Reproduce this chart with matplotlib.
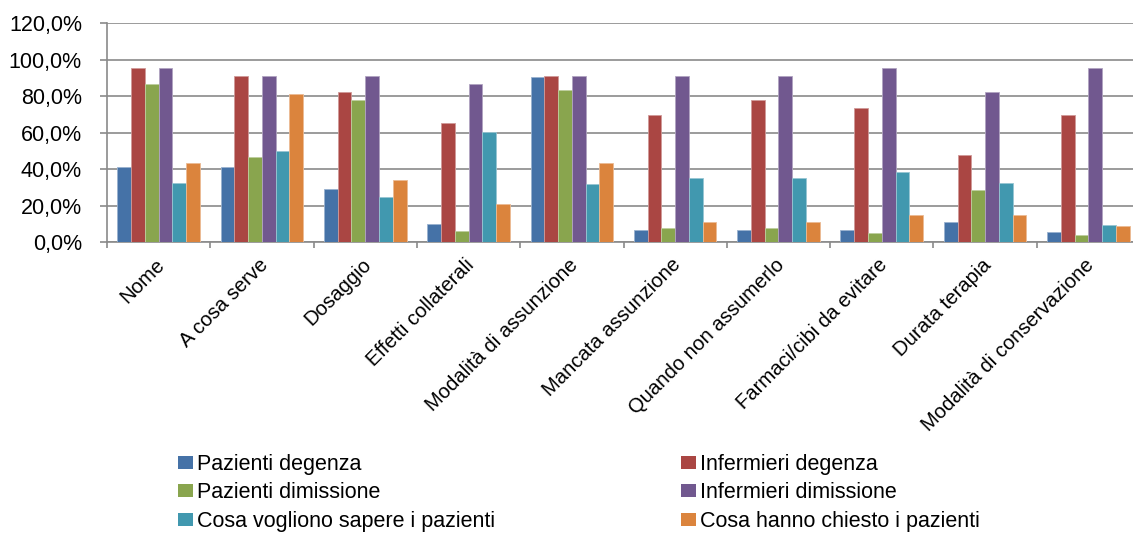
import numpy as np
import matplotlib
matplotlib.use("Agg")
import matplotlib.pyplot as plt
from matplotlib.patches import Patch
from matplotlib.colors import to_rgb
from matplotlib.ticker import FuncFormatter, FixedLocator
from matplotlib.transforms import ScaledTranslation

plt.rcParams['font.family'] = ['Liberation Sans', 'DejaVu Sans']

categories = ["Nome", "A cosa serve", "Dosaggio", "Effetti collaterali",
              "Modalità di assunzione", "Mancata assunzione",
              "Quando non assumerlo", "Farmaci/cibi da evitare",
              "Durata terapia", "Modalità di conservazione"]

series_names = ["Pazienti degenza", "Infermieri degenza", "Pazienti dimissione",
                "Infermieri dimissione", "Cosa vogliono sapere i pazienti",
                "Cosa hanno chiesto i pazienti"]

pazienti_degenza = [41.4, 41.4, 29.0, 9.8, 90.8, 6.7, 6.7, 6.7, 11.1, 5.5]
infermieri_degenza = [95.5, 91.0, 82.4, 65.1, 91.2, 69.5, 78.2, 73.8, 47.8, 69.5]
pazienti_dimissione = [86.8, 46.9, 77.8, 6.0, 83.7, 7.8, 7.8, 4.9, 28.8, 4.0]
infermieri_dimissione = [95.5, 91.0, 91.0, 86.8, 91.2, 91.2, 91.2, 95.5, 82.4, 95.5]
cosa_vogliono_sapere = [32.5, 49.8, 24.6, 60.3, 31.7, 35.4, 35.4, 38.5, 32.5, 9.5]
cosa_hanno_chiesto = [43.4, 81.0, 33.9, 21.0, 43.4, 11.1, 11.1, 15.0, 15.0, 9.1]

series_values = [pazienti_degenza, infermieri_degenza, pazienti_dimissione,
                 infermieri_dimissione, cosa_vogliono_sapere, cosa_hanno_chiesto]

colors = ["#4572A7", "#AA4643", "#89A54E", "#71588F", "#4198AF", "#DB843D"]

yticks = [0, 20, 40, 60, 80, 100, 120]

W, H = 1133, 535
fig = plt.figure(figsize=(W / 100, H / 100), dpi=100)
ax = fig.add_axes([107 / W, 1 - 242.3 / H, 1033 / W, (242.3 - 23.3) / H])

n = len(series_values)
gap = 1.5
bw = 1.0 / (n + gap)
x = np.arange(len(categories))

def lighten(c, f=0.45):
    r, g, b = to_rgb(c)
    return (r + (1 - r) * f, g + (1 - g) * f, b + (1 - b) * f)

for i, (vals, col) in enumerate(zip(series_values, colors)):
    offs = (i - (n - 1) / 2) * bw
    ax.bar(x + offs, vals, width=bw, color=col, edgecolor=lighten(col),
           linewidth=0.6, zorder=3)

ax.set_xlim(-0.5, len(categories) - 0.5)
ax.set_ylim(0, 120)
ax.set_yticks(yticks)
ax.yaxis.set_major_formatter(FuncFormatter(lambda v, p: f"{v:.1f}%".replace(".", ",")))

grid_col = "#8a8a8a"
ax.grid(axis='y', color=grid_col, linewidth=1.2, zorder=0)
ax.set_axisbelow(True)
for s in ['top', 'right']:
    ax.spines[s].set_visible(False)
for s in ['left', 'bottom']:
    ax.spines[s].set_color(grid_col)
    ax.spines[s].set_linewidth(1.2)

ax.tick_params(axis='y', direction='out', length=5, width=1.2, color=grid_col,
               labelsize=15.5, pad=13, labelcolor='black')

ax.set_xticks(x)
ax.set_xticklabels(categories, rotation=45, ha='right', va='center',
                   rotation_mode='anchor', fontsize=14.6)
ax.tick_params(axis='x', which='major', length=0, pad=14)
shift = ScaledTranslation(3 / 100, 0, fig.dpi_scale_trans)
for lbl in ax.get_xticklabels():
    lbl.set_transform(lbl.get_transform() + shift)
ax.xaxis.set_minor_locator(FixedLocator(np.arange(-0.5, len(categories), 1.0)))
ax.tick_params(axis='x', which='minor', direction='out', length=4.5, width=1.2,
               color=grid_col)

handles = [Patch(facecolor=c, edgecolor='none') for c in colors]
legend_kw = dict(frameon=False, fontsize=15.5, handlelength=0.68, handleheight=0.56,
                 handletextpad=0.22, labelspacing=0.36, borderpad=0,
                 borderaxespad=0, loc='center left')
leg1 = fig.legend([handles[0], handles[2], handles[4]],
                  [series_names[0], series_names[2], series_names[4]],
                  bbox_to_anchor=(178 / W, 1 - 493 / H), **legend_kw)
leg2 = fig.legend([handles[1], handles[3], handles[5]],
                  [series_names[1], series_names[3], series_names[5]],
                  bbox_to_anchor=(681 / W, 1 - 493 / H), **legend_kw)

fig.savefig("out.png", dpi=100)
